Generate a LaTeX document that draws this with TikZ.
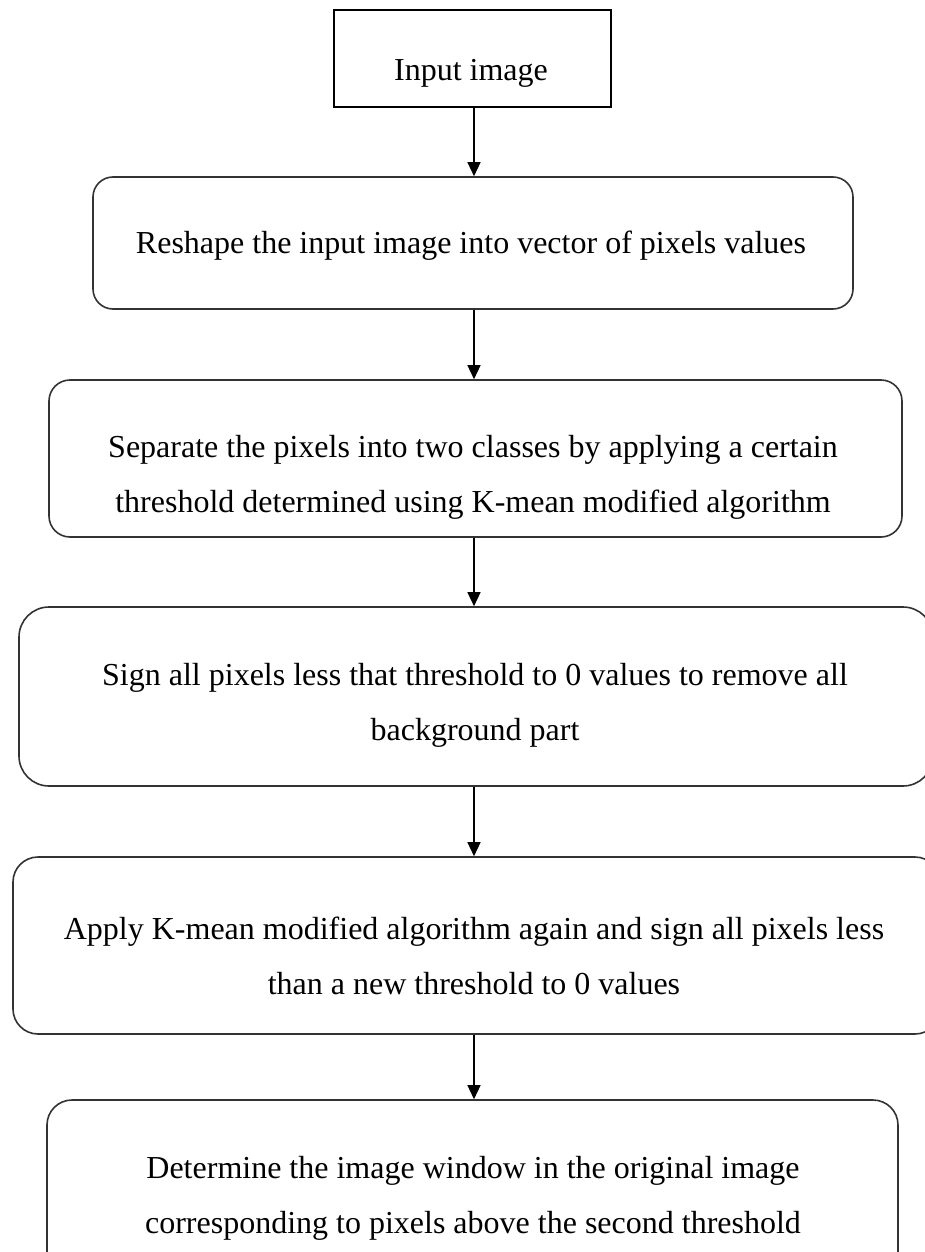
\documentclass[tikz,border=0pt]{standalone}
\usepackage{fontspec}
\setmainfont{Liberation Serif}
\usetikzlibrary{arrows.meta}
\begin{document}
\begin{tikzpicture}[x=1pt,y=-1pt,
  font=\fontsize{32}{55}\selectfont,
  stage/.style={draw=black!80, line width=1.6pt, fill=white, inner sep=0pt},
  label/.style={align=center, inner sep=0pt},
  flow/.style={draw=black, line width=1.4pt, -{Triangle[length=14pt,width=13pt]}}]
\useasboundingbox (0,0) rectangle (925,1252);
\clip (0,0) rectangle (925,1252);

% processing stages
\node[stage, draw=black, minimum width=277pt, minimum height=97pt] (b1) at (472.5,58.5) {};
\node[stage, rounded corners=20pt, minimum width=760pt, minimum height=132pt] (b2) at (473,243) {};
\node[stage, rounded corners=21pt, minimum width=853pt, minimum height=157pt] (b3) at (475.5,458.5) {};
\node[stage, rounded corners=30pt, minimum width=914pt, minimum height=179pt] (b4) at (476,696.5) {};
\node[stage, rounded corners=25pt, minimum width=927pt, minimum height=177pt] (b5) at (476.5,945.5) {};
\node[stage, rounded corners=25pt, minimum width=851pt, minimum height=185pt] (b6) at (472.5,1192.5) {};

% stage descriptions
\node[label] (t1) at (471,73) {Input image};
\node[label] (t2) at (471,246) {Reshape the input image into vector of pixels values};
\node[label] (t3) at (473,477) {Separate the pixels into two classes by applying a certain\\threshold determined using K-mean modified algorithm};
\node[label] (t4) at (475,705.5) {Sign all pixels less that threshold to 0 values to remove all\\background part};
\node[label] (t5) at (474,955.5) {Apply K-mean modified algorithm again and sign all pixels less\\than a new threshold to 0 values};
\node[label] (t6) at (473,1198) {Determine the image window in the original image\\corresponding to pixels above the second threshold};

% connectors
\draw[flow] ([xshift=1.5pt]b1.south) -- ([xshift=1.5pt]b1.south |- b2.north);
\draw[flow] ([xshift=1pt]b2.south) -- ([xshift=1pt]b2.south |- b3.north);
\draw[flow] ([xshift=-1.5pt]b3.south) -- ([xshift=-1.5pt]b3.south |- b4.north);
\draw[flow] ([xshift=-2pt]b4.south) -- ([xshift=-2pt]b4.south |- b5.north);
\draw[flow] ([xshift=-2.5pt]b5.south) -- ([xshift=-2.5pt]b5.south |- b6.north);
\end{tikzpicture}
\end{document}
